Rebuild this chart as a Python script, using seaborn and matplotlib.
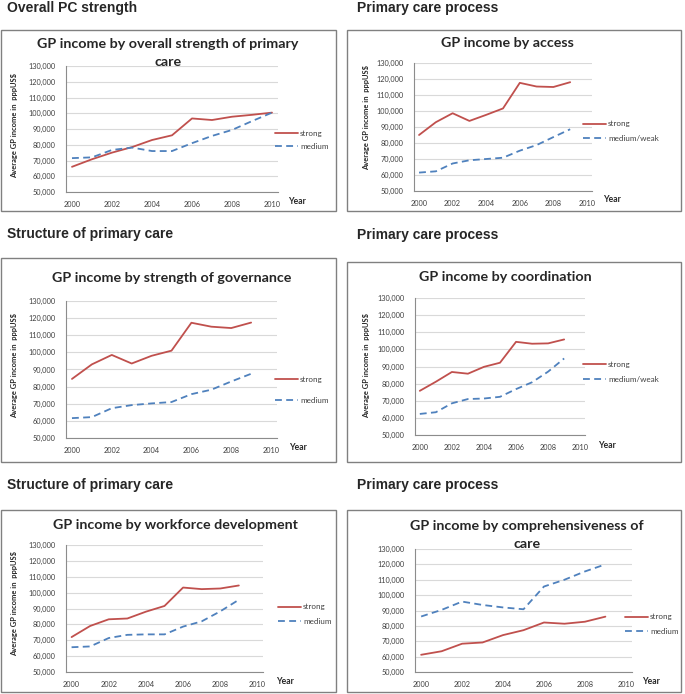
import matplotlib
matplotlib.use("Agg")
import matplotlib.pyplot as plt
from matplotlib.patches import Rectangle
from matplotlib.ticker import MultipleLocator, FuncFormatter
import seaborn as sns

# Data (GP income, thousands of ppp US$)
years10 = list(range(2000, 2010))
years11 = list(range(2000, 2011))

overall_strong = [66, 70.8, 75, 78.5, 83, 86, 96.7, 95.7, 97.8, 99, 100.4]
overall_medium = [71.5, 72, 76.7, 78.2, 76, 76, 81, 85.6, 89.4, 95, 100.4]

access_strong = [85, 93, 98.6, 93.8, 97.6, 101.6, 117.6, 115.3, 115, 118]
access_weak = [61.5, 62.3, 67.2, 69.2, 70, 70.8, 75.2, 78.7, 83.7, 88.6]

governance_strong = [84.5, 93, 98.5, 93.5, 98, 101, 117.3, 115, 114.2, 117.4]
governance_medium = [61.6, 62.2, 67.4, 69.2, 70.2, 71, 75.6, 78.2, 83, 87.5]

coordination_strong = [75.8, 81.1, 86.8, 85.8, 89.8, 92.2, 104.4, 103.3, 103.5, 105.8]
coordination_weak = [62.3, 63.3, 68.5, 71, 71.3, 72.3, 76.8, 80.8, 87, 94.7]

workforce_strong = [72, 79, 83.2, 83.7, 88, 91.6, 103.2, 102.2, 102.6, 104.5]
workforce_medium = [65.6, 66.1, 71.4, 73.4, 73.7, 73.7, 78.6, 81.9, 88.2, 95.5]

comprehensive_strong = [61.2, 63.5, 68.4, 69.2, 74, 77.2, 82.2, 81.4, 82.7, 86]
comprehensive_medium = [86.1, 90.4, 95.8, 93.6, 92, 90.8, 105.6, 110, 115.4, 120]

headings = ["Overall PC strength", "Primary care process",
            "Structure of primary care", "Primary care process",
            "Structure of primary care", "Primary care process"]
# titles as lines (the long ones wrap onto a second line)
titles = [["GP income by overall strength of primary", "care"],
          ["GP income by access"],
          ["GP income by strength of governance"],
          ["GP income by coordination"],
          ["GP income by workforce development"],
          ["GP income by comprehensiveness of", "care"]]
series_labels = [("strong", "medium"), ("strong", "medium/weak"),
                 ("strong", "medium"), ("strong", "medium/weak"),
                 ("strong", "medium"), ("strong", "medium")]

W, H = 685, 694
RED = "#C0504D"
BLUE = "#4F81BD"
GRID = "#D9D9D9"
AXC = "#8C8C8C"

sns.set_style("white")
plt.rcParams["font.family"] = ["Lato", "DejaVu Sans"]

fig = plt.figure(figsize=(W / 100, H / 100), dpi=100)


def fx(px):
    return px / W


def fy(py):
    return 1 - py / H


# pixel layout of each panel (title = centre x, first line y)
layout = [
    dict(box=(1, 30, 336, 211), ax=(66, 66, 278, 192), title=(168, 44), ylab=(15, 125),
         leg=(275, 140, 0.8), year=(288, 202), head=(7, 8)),
    dict(box=(347, 30, 681, 211), ax=(414, 63, 592, 191), title=(507, 43), ylab=(367, 118),
         leg=(583, 131, 0.9), year=(603, 200), head=(357, 8)),
    dict(box=(1, 258, 336, 462), ax=(66, 301, 277, 438), title=(172, 278), ylab=(15, 365),
         leg=(275, 390, 1.8), year=(289, 448), head=(7, 234)),
    dict(box=(347, 262, 681, 462), ax=(415, 298, 585, 435), title=(505, 277), ylab=(367, 366),
         leg=(583, 372, 1.05), year=(598, 445), head=(357, 235)),
    dict(box=(1, 510, 336, 692), ax=(66, 545, 263, 672), title=(175, 525), ylab=(15, 604),
         leg=(278, 614, 0.9), year=(276, 682), head=(7, 485)),
    dict(box=(347, 510, 681, 692), ax=(415, 549, 632, 672), title=(527, 526), ylab=None,
         leg=(625, 624, 0.9), year=(642, 682), head=(357, 485)),
]

data = [
    (years11, overall_strong, overall_medium),
    (years10, access_strong, access_weak),
    (years10, governance_strong, governance_medium),
    (years10, coordination_strong, coordination_weak),
    (years10, workforce_strong, workforce_medium),
    (years10, comprehensive_strong, comprehensive_medium),
]

for i, lay in enumerate(layout):
    x0, y0, x1, y1 = lay["box"]
    fig.patches.append(Rectangle((fx(x0), fy(y1)), fx(x1) - fx(x0), fy(y0) - fy(y1),
                                 transform=fig.transFigure, fill=False,
                                 edgecolor="#808080", linewidth=1.0))
    hx, hy = lay["head"]
    fig.text(fx(hx), fy(hy), headings[i], family="Liberation Sans", fontweight="bold",
             fontsize=10, ha="left", va="center")

    a0, b0, a1, b1 = lay["ax"]
    ax = fig.add_axes([fx(a0), fy(b1), fx(a1) - fx(a0), fy(b0) - fy(b1)])
    yrs, s1, s2 = data[i]
    sns.lineplot(x=yrs, y=[v * 1000 for v in s1], ax=ax, color=RED, linewidth=1.3,
                 label=series_labels[i][0])
    sns.lineplot(x=yrs, y=[v * 1000 for v in s2], ax=ax, color=BLUE, linewidth=1.3,
                 linestyle=(0, (3.8, 2.4)), label=series_labels[i][1])

    ax.set_xlim(1999.7, 2010.3)
    ax.set_ylim(50000, 130000)
    ax.yaxis.set_major_locator(MultipleLocator(10000))
    ax.yaxis.set_major_formatter(FuncFormatter(lambda v, p: f"{v:,.0f}"))
    ax.set_xticks(range(2000, 2011, 2))
    ax.xaxis.set_minor_locator(MultipleLocator(1))
    ax.grid(axis="y", color=GRID, linewidth=0.8)
    ax.set_axisbelow(True)
    for sp in ["top", "right"]:
        ax.spines[sp].set_visible(False)
    for sp in ["left", "bottom"]:
        ax.spines[sp].set_color(AXC)
        ax.spines[sp].set_linewidth(0.8)
    ax.tick_params(axis="both", which="both", direction="out", length=2.5, width=0.6,
                   color=AXC, labelsize=5.3, labelcolor="#404040")
    ax.tick_params(axis="y", pad=5)
    ax.tick_params(axis="x", pad=4)
    ax.set_xlabel("")
    ax.set_ylabel("")

    lx, ly, sp = lay["leg"]
    ax.legend(loc="center left", bbox_to_anchor=(fx(lx), fy(ly)),
              bbox_transform=fig.transFigure, frameon=False, fontsize=5.8,
              handlelength=2.8, handletextpad=0.3, labelspacing=sp,
              borderpad=0, borderaxespad=0, labelcolor="#404040")

    tx, ty = lay["title"]
    for k, line in enumerate(titles[i]):
        fig.text(fx(tx), fy(ty + 18 * k), line, fontsize=10.3, fontweight="bold",
                 ha="center", va="center")
    if lay["ylab"] is not None:
        ylx, yly = lay["ylab"]
        fig.text(fx(ylx), fy(yly), "Average GP income in  pppUS$", fontsize=5.4,
                 fontweight="bold", rotation=90, ha="center", va="center")
    yx, yy = lay["year"]
    fig.text(fx(yx), fy(yy), "Year", fontsize=6.2, fontweight="bold",
             ha="left", va="center")

fig.savefig("out.png", dpi=100, facecolor="white")
